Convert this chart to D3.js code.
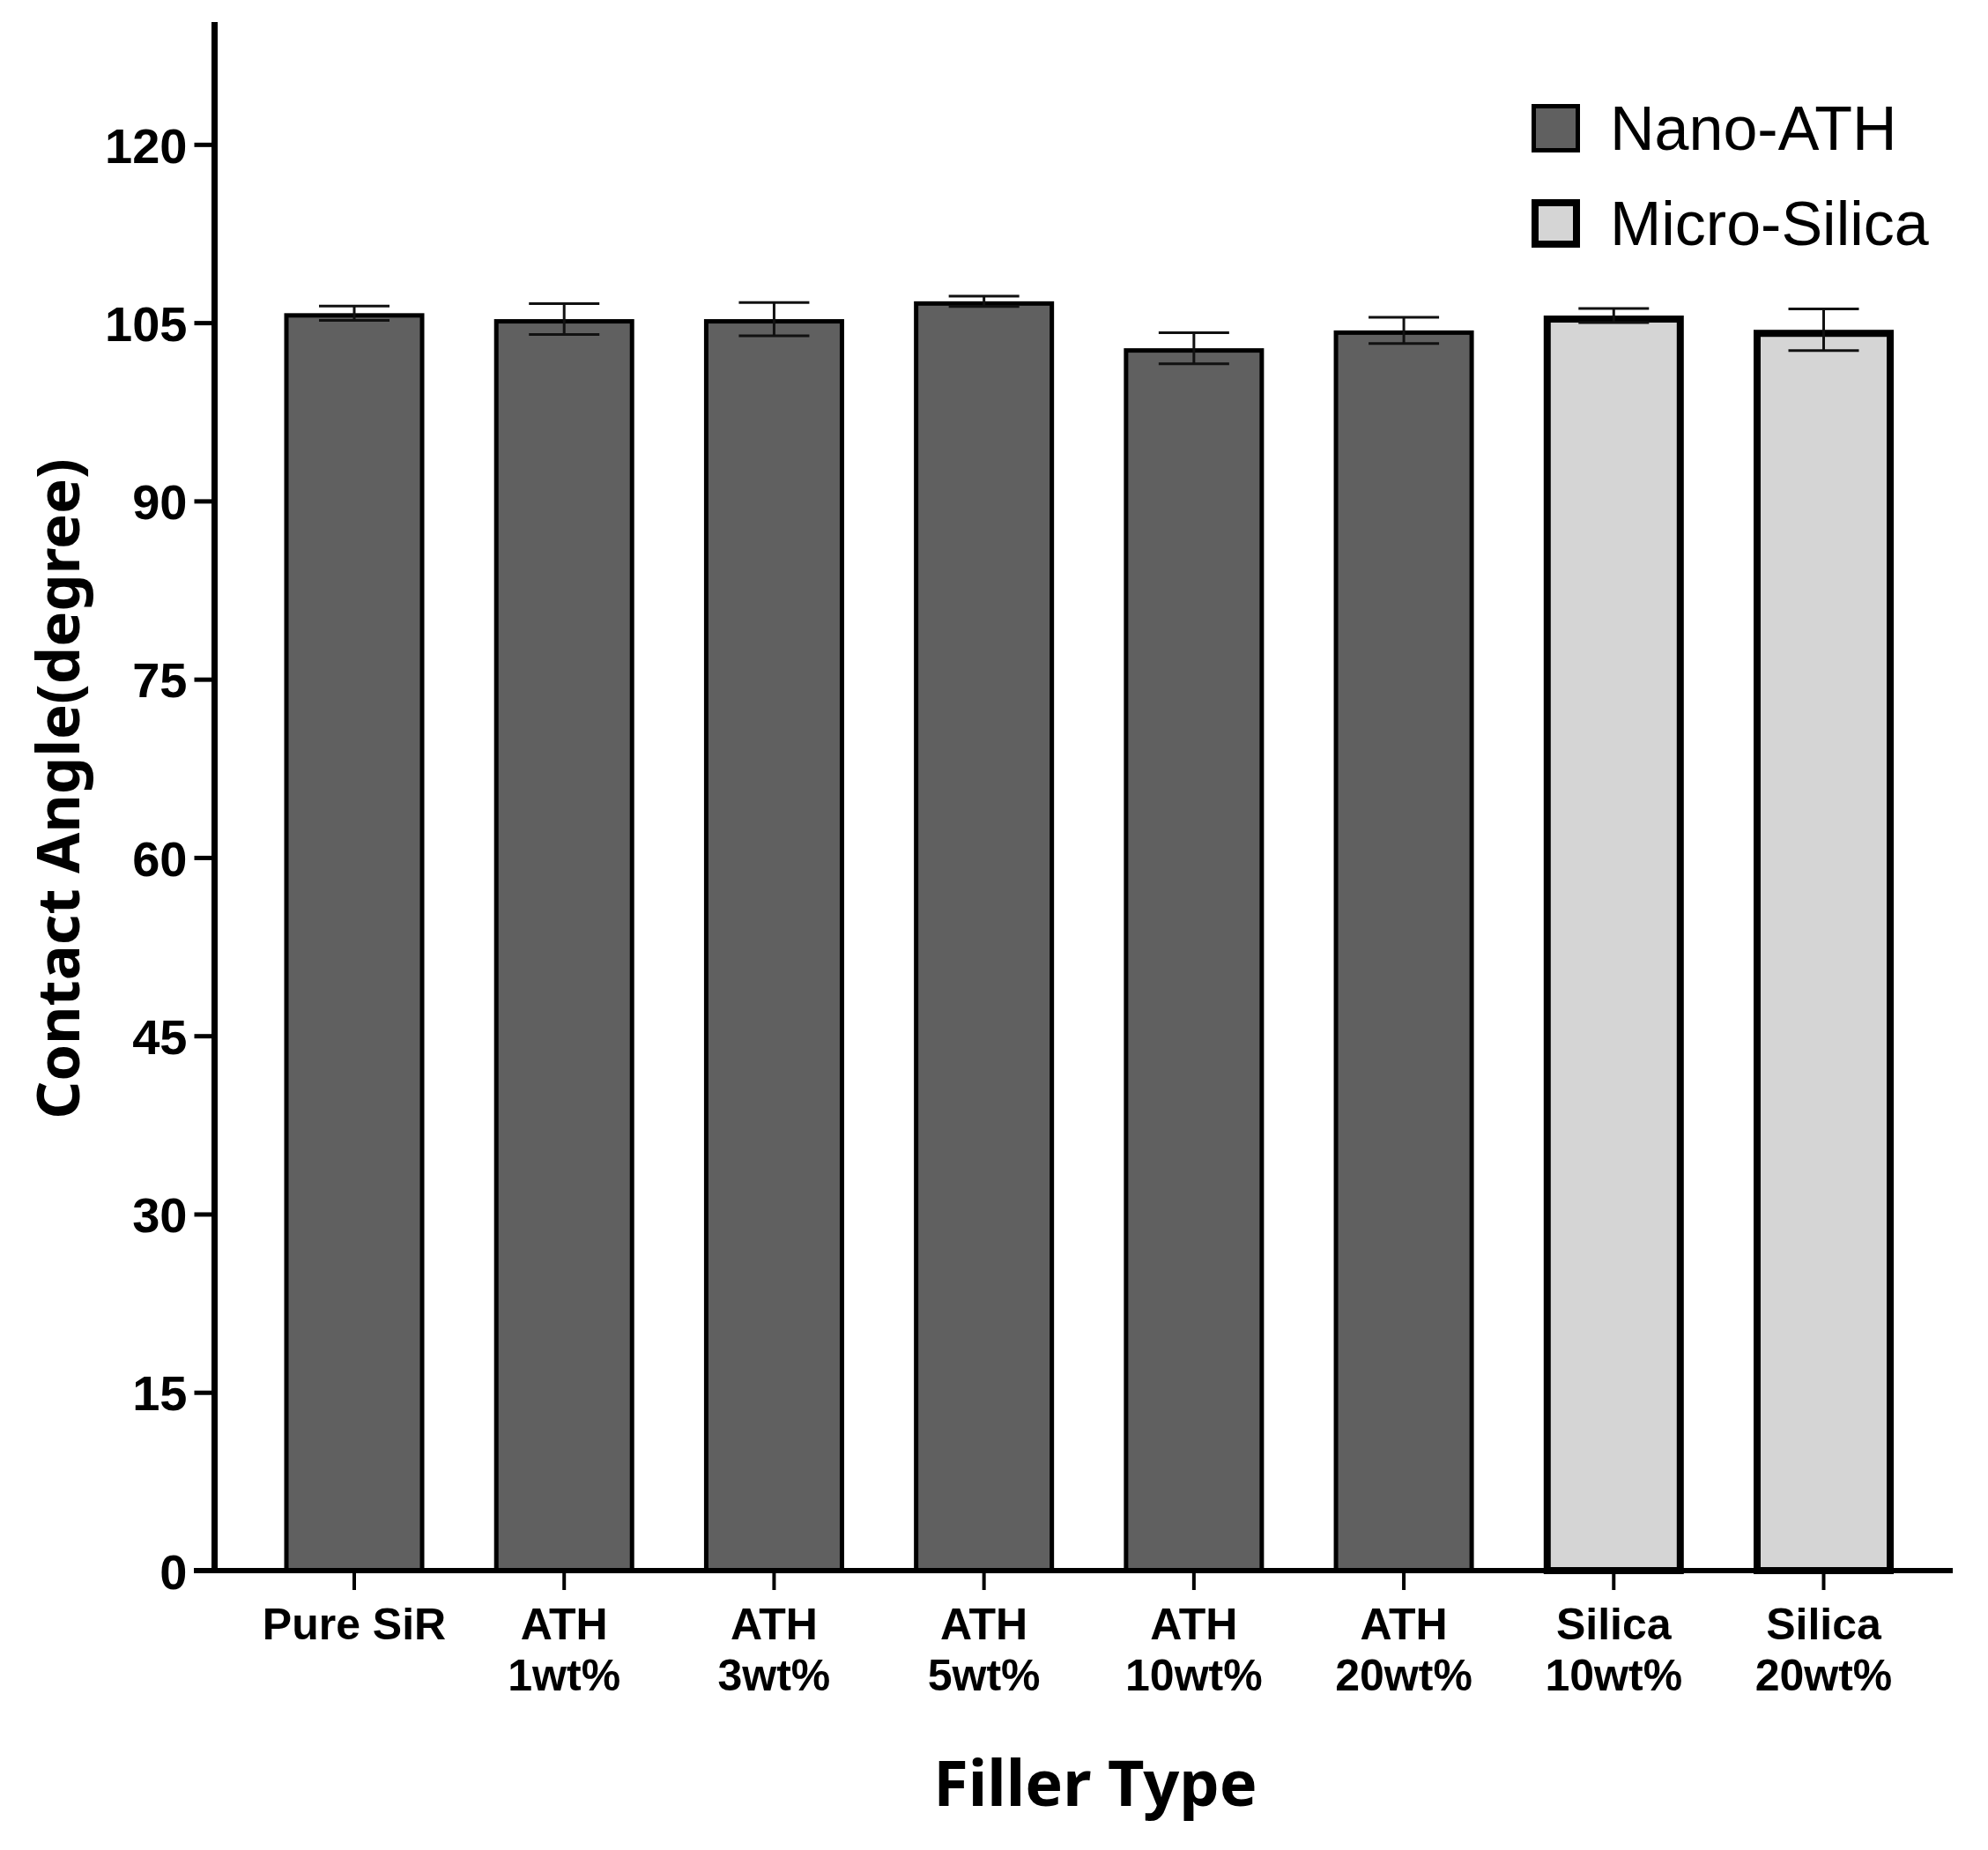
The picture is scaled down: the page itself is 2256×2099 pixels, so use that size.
<!DOCTYPE html>
<html>
<head>
<meta charset="utf-8">
<script src="https://cdn.jsdelivr.net/npm/d3@7"></script>
<style>
html,body{margin:0;padding:0;background:#fff;}
svg{display:block;}
</style>
</head>
<body>
<svg id="chart" width="2256" height="2099"></svg>
<script>
// ---- data ----
const categories = ["Pure SiR", "ATH 1wt%", "ATH 3wt%", "ATH 5wt%", "ATH 10wt%", "ATH 20wt%", "Silica 10wt%", "Silica 20wt%"];
const labelLine1 = ["Pure SiR", "ATH", "ATH", "ATH", "ATH", "ATH", "Silica", "Silica"];
const labelLine2 = ["", "1wt%", "3wt%", "5wt%", "10wt%", "20wt%", "10wt%", "20wt%"];
const groups = ["Nano-ATH", "Nano-ATH", "Nano-ATH", "Nano-ATH", "Nano-ATH", "Nano-ATH", "Micro-Silica", "Micro-Silica"];
const means = [105.8, 105.3, 105.3, 106.8, 102.85, 104.35, 105.6, 104.4];
const errors = [0.6, 1.3, 1.4, 0.43, 1.3, 1.1, 0.6, 1.75];
const yTicks = [0, 15, 30, 45, 60, 75, 90, 105, 120];
const legendItems = ["Nano-ATH", "Micro-Silica"];

// ---- styles ----
const fillColor = {"Nano-ATH": "#606060", "Micro-Silica": "#d5d5d5"};
const borderWidth = {"Nano-ATH": 5, "Micro-Silica": 8};

const svg = d3.select("#chart");

const y = d3.scaleLinear().domain([0, 130]).range([1782, 29]);
const x = d3.scaleBand().domain(categories).range([322.5, 2149]).paddingInner(0.3325).paddingOuter(0);

const bw = x.bandwidth();

// bars
const bars = svg.append("g");
categories.forEach((c, i) => {
  const g = groups[i];
  const sw = borderWidth[g];
  const x0 = x(c);
  const yt = y(means[i]);
  bars.append("rect")
    .attr("x", x0 + sw / 2)
    .attr("y", yt + sw / 2)
    .attr("width", bw - sw)
    .attr("height", y(0) - yt - sw / 2)
    .attr("fill", fillColor[g])
    .attr("stroke", "#000")
    .attr("stroke-width", sw);
});

// error bars
const eb = svg.append("g").attr("stroke", "#111").attr("stroke-width", 3).attr("fill", "none");
categories.forEach((c, i) => {
  const cx = x(c) + bw / 2;
  const hi = y(means[i] + errors[i]);
  const lo = y(means[i] - errors[i]);
  const capHalf = 40;
  eb.append("line").attr("x1", cx).attr("x2", cx).attr("y1", hi).attr("y2", lo);
  eb.append("line").attr("x1", cx - capHalf).attr("x2", cx + capHalf).attr("y1", hi).attr("y2", hi);
  eb.append("line").attr("x1", cx - capHalf).attr("x2", cx + capHalf).attr("y1", lo).attr("y2", lo);
});

// y axis
const yAxisX = 243.5;
const yAxis = d3.axisLeft(y).tickValues(yTicks).tickSize(23).tickPadding(8).tickFormat(d3.format("d"));
const yg = svg.append("g").attr("transform", `translate(${yAxisX},0)`).call(yAxis);
yg.select(".domain").remove();
yg.selectAll(".tick line").attr("stroke", "#000").attr("stroke-width", 5);
yg.selectAll(".tick text")
  .attr("fill", "#000")
  .style("font-family", "'Liberation Sans', Arial, sans-serif")
  .style("font-weight", "bold")
  .style("font-size", "56px")
  .attr("dy", "0.36em");
svg.append("line")
  .attr("x1", yAxisX).attr("x2", yAxisX)
  .attr("y1", y(130) - 4).attr("y2", y(0) + 3)
  .attr("stroke", "#000").attr("stroke-width", 7);

// x axis
const xAxis = d3.axisBottom(x).tickSize(22).tickFormat("");
const xg = svg.append("g").attr("transform", `translate(0,${y(0)})`).call(xAxis);
xg.select(".domain").remove();
xg.selectAll(".tick line").attr("stroke", "#000").attr("stroke-width", 4);
svg.append("line")
  .attr("x1", 220).attr("x2", 2216)
  .attr("y1", y(0)).attr("y2", y(0))
  .attr("stroke", "#000").attr("stroke-width", 6);

// x tick labels (two lines)
const xl = svg.append("g")
  .style("font-family", "'Liberation Sans', Arial, sans-serif")
  .style("font-weight", "bold")
  .style("font-size", "50px")
  .attr("text-anchor", "middle")
  .attr("fill", "#000");
categories.forEach((c, i) => {
  const cx = x(c) + bw / 2;
  xl.append("text").attr("x", cx).attr("y", 1860).text(labelLine1[i]);
  if (labelLine2[i]) xl.append("text").attr("x", cx).attr("y", 1918).text(labelLine2[i]);
});

// axis titles
svg.append("text")
  .attr("transform", "translate(90,895) rotate(-90)")
  .attr("text-anchor", "middle")
  .style("font-family", "'Noto Sans', 'Open Sans', sans-serif")
  .style("font-weight", "bold")
  .style("font-size", "67px")
  .attr("fill", "#000")
  .text("Contact Angle(degree)");

svg.append("text")
  .attr("x", 1243).attr("y", 2049)
  .attr("text-anchor", "middle")
  .style("font-family", "'Noto Sans', 'Open Sans', sans-serif")
  .style("font-weight", "bold")
  .style("font-size", "72px")
  .attr("fill", "#000")
  .text("Filler Type");

// legend
const lg = svg.append("g");
legendItems.forEach((name, i) => {
  const sw = borderWidth[name];
  const top = 118 + i * 108;
  lg.append("rect")
    .attr("x", 1738 + sw / 2).attr("y", top + sw / 2)
    .attr("width", 55 - sw).attr("height", 55 - sw)
    .attr("fill", fillColor[name])
    .attr("stroke", "#000").attr("stroke-width", sw);
  lg.append("text")
    .attr("x", 1827).attr("y", top + 52)
    .style("font-family", "'Liberation Sans', Arial, sans-serif")
    .style("font-size", "70px")
    .attr("fill", "#000")
    .text(name);
});
</script>
</body>
</html>
